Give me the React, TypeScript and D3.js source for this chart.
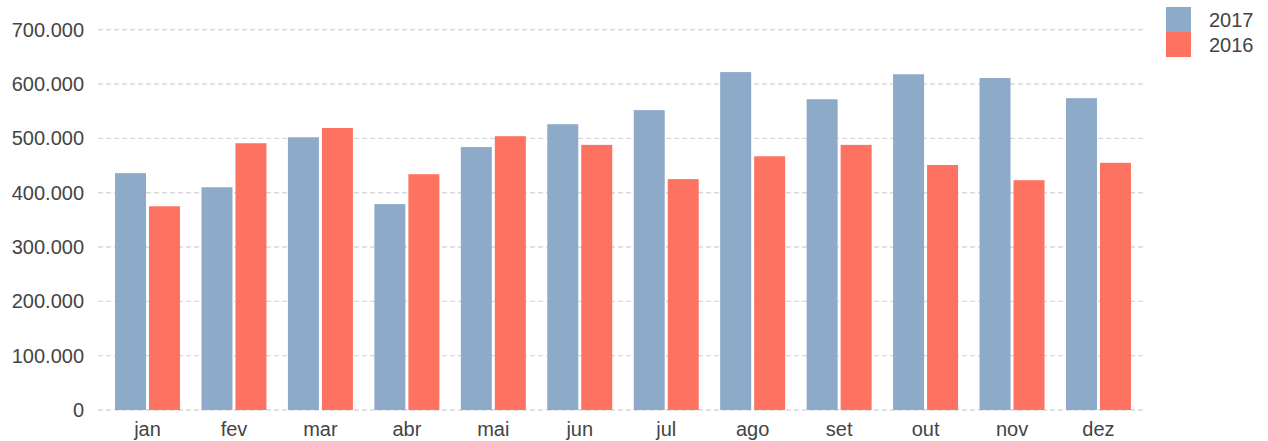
import { useRef, useEffect } from 'react';
import * as d3 from 'd3';

const months = ['jan', 'fev', 'mar', 'abr', 'mai', 'jun', 'jul', 'ago', 'set', 'out', 'nov', 'dez'];
const series = ['2017', '2016'];
const values2017 = [436000, 410000, 502000, 379000, 484000, 526000, 552000, 622000, 572000, 618000, 611000, 574000];
const values2016 = [375000, 491000, 519000, 434000, 504000, 488000, 425000, 467000, 488000, 451000, 423000, 455000];
const yTicks = [0, 100000, 200000, 300000, 400000, 500000, 600000, 700000];
const colors = ['#8eaac9', '#fe7262'];

export default function App() {
  const svgRef = useRef<SVGSVGElement>(null);

  useEffect(() => {
    const width = 1268;
    const height = 441;
    const font = 'Liberation Sans, Arial, sans-serif';

    const svg = d3.select(svgRef.current)
      .html('')
      .attr('width', width)
      .attr('height', height)
      .style('font-family', font);

    const data = months.map((m, i) => ({ month: m, vals: [values2017[i], values2016[i]] }));

    // scales
    const x0 = d3.scaleBand().domain(months).range([104.3, 1141.7]).padding(0);
    const groupW = 65;
    const x1 = d3.scaleBand().domain(series).range([0, groupW]).paddingInner(0.088);
    const y = d3.scaleLinear().domain([0, 700000]).range([410, 29.7]);

    const fmt = (v: number) => d3.format(',')(v).replace(/,/g, '.');

    // gridlines
    svg.append('g')
      .selectAll('line')
      .data(yTicks)
      .enter()
      .append('line')
      .attr('x1', 98)
      .attr('x2', 1146)
      .attr('y1', d => y(d))
      .attr('y2', d => y(d))
      .attr('stroke', '#d9d9d9')
      .attr('stroke-width', 1.4)
      .attr('stroke-dasharray', '5,3');

    // y labels
    svg.append('g')
      .selectAll('text')
      .data(yTicks)
      .enter()
      .append('text')
      .attr('x', 84)
      .attr('y', d => y(d))
      .attr('dy', '0.35em')
      .attr('text-anchor', 'end')
      .attr('font-size', 20)
      .attr('fill', '#444')
      .text(d => fmt(d));

    // bars
    const groups = svg.append('g')
      .selectAll('g')
      .data(data)
      .enter()
      .append('g')
      .attr('transform', d => `translate(${x0(d.month)! + (x0.bandwidth() - groupW) / 2},0)`);

    groups.selectAll('rect')
      .data(d => d.vals.map((v, i) => ({ key: series[i], v, i })))
      .enter()
      .append('rect')
      .attr('x', d => x1(d.key)!)
      .attr('width', x1.bandwidth())
      .attr('y', d => y(d.v))
      .attr('height', d => y(0) - y(d.v))
      .attr('fill', d => colors[d.i]);

    // x labels
    svg.append('g')
      .selectAll('text')
      .data(months)
      .enter()
      .append('text')
      .attr('x', d => x0(d)! + x0.bandwidth() / 2)
      .attr('y', 429)
      .attr('dy', '0.35em')
      .attr('text-anchor', 'middle')
      .attr('font-size', 20)
      .attr('fill', '#444')
      .text(d => d);

    // legend
    const legend = svg.append('g');
    series.forEach((s, i) => {
      legend.append('rect')
        .attr('x', 1166)
        .attr('y', 7 + i * 25)
        .attr('width', 25)
        .attr('height', 25)
        .attr('fill', colors[i]);
      legend.append('text')
        .attr('x', 1209)
        .attr('y', 20 + i * 25)
        .attr('dy', '0.35em')
        .attr('font-size', 20)
        .attr('fill', '#444')
        .text(s);
    });
  }, []);

  return <svg ref={svgRef} style={{ position: 'absolute', left: 0, top: 0 }} />;
}
